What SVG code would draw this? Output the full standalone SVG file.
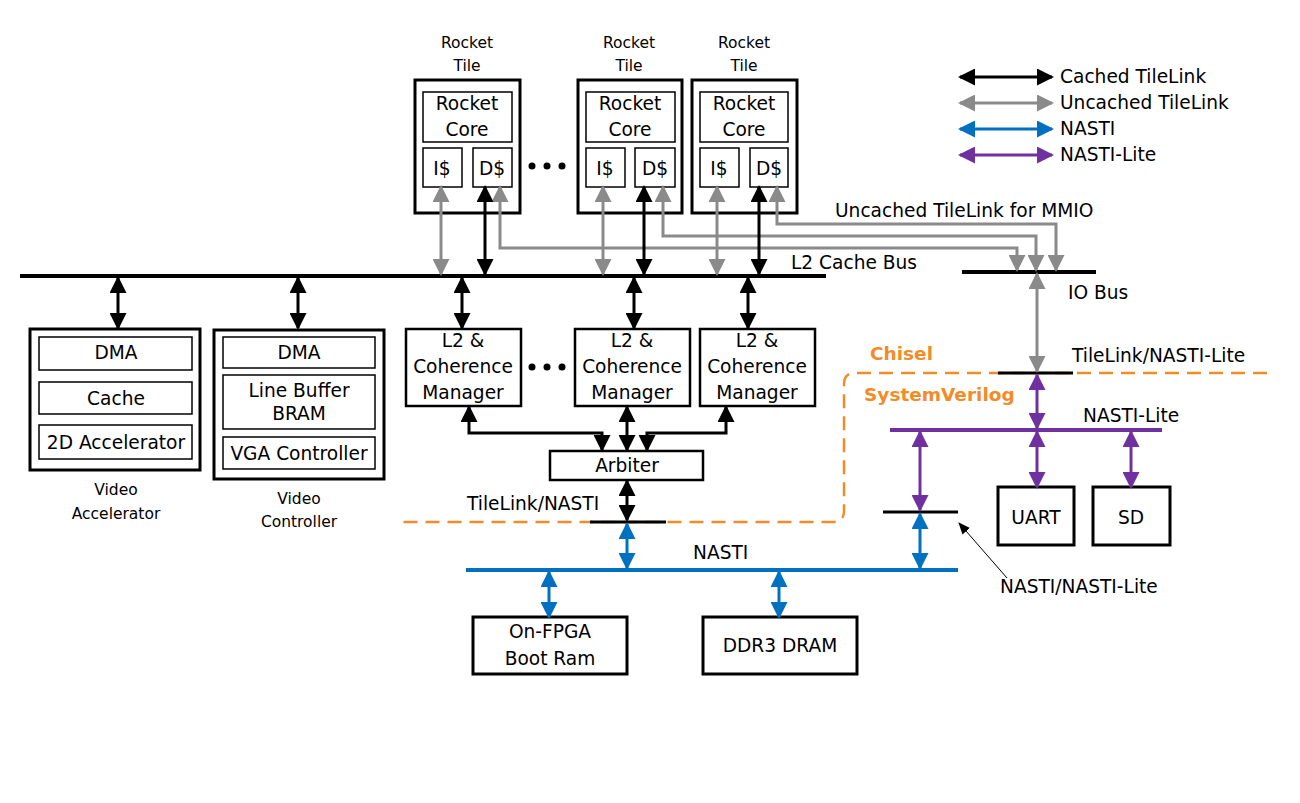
<svg xmlns="http://www.w3.org/2000/svg" width="1300" height="803" viewBox="0 0 1300 803">
<defs>
<style>
text{font-family:"DejaVu Sans","Liberation Sans",sans-serif;font-size:18.6px;fill:#000}
.sm{font-size:15.5px}
.mid{text-anchor:middle}
.lg{font-size:18.6px}
.org{fill:#f28c28;font-weight:bold;font-size:18.5px}
.outer{fill:#fff;stroke:#000;stroke-width:3}
.inner{fill:#fff;stroke:#000;stroke-width:1.5}
.box{fill:#fff;stroke:#000;stroke-width:2.5}
.bus{stroke:#000;stroke-width:4;fill:none}
.kk{fill:none;stroke:#000;stroke-width:3;marker-start:url(#mk);marker-end:url(#mk)}
.gg{fill:none;stroke:#8a8a8a;stroke-width:3;marker-start:url(#mg);marker-end:url(#mg)}
.bb{fill:none;stroke:#0070c0;stroke-width:3;marker-start:url(#mb);marker-end:url(#mb)}
.pp{fill:none;stroke:#7030a0;stroke-width:3;marker-start:url(#mp);marker-end:url(#mp)}
</style>
<marker id="mk" markerUnits="userSpaceOnUse" markerWidth="17" markerHeight="17" viewBox="0 0 17 17" refX="15" refY="8.5" orient="auto-start-reverse"><path d="M0,0 L17,8.5 L0,17 z" fill="#000"/></marker>
<marker id="mg" markerUnits="userSpaceOnUse" markerWidth="17" markerHeight="17" viewBox="0 0 17 17" refX="15" refY="8.5" orient="auto-start-reverse"><path d="M0,0 L17,8.5 L0,17 z" fill="#8a8a8a"/></marker>
<marker id="mb" markerUnits="userSpaceOnUse" markerWidth="17" markerHeight="17" viewBox="0 0 17 17" refX="15" refY="8.5" orient="auto-start-reverse"><path d="M0,0 L17,8.5 L0,17 z" fill="#0070c0"/></marker>
<marker id="mp" markerUnits="userSpaceOnUse" markerWidth="17" markerHeight="17" viewBox="0 0 17 17" refX="15" refY="8.5" orient="auto-start-reverse"><path d="M0,0 L17,8.5 L0,17 z" fill="#7030a0"/></marker>
<marker id="ms" markerUnits="userSpaceOnUse" markerWidth="12" markerHeight="10" viewBox="0 0 12 10" refX="11" refY="5" orient="auto"><path d="M0,0 L12,5 L0,10 z" fill="#000"/></marker>
</defs>
<rect width="1300" height="803" fill="#fff"/>

<!-- orange boundary -->
<g id="boundary">
<path d="M1267,373 H855 Q844,373 844,384 V511 Q844,522 833,522 H403" fill="none" stroke="#f28c28" stroke-width="2.5" stroke-dasharray="14 8"/>
<text class="org" x="870" y="360">Chisel</text>
<text class="org" x="864" y="401">SystemVerilog</text>
</g>

<!-- buses -->
<g id="buses">
<line class="bus" x1="20" y1="276" x2="826" y2="276"/>
<text x="791" y="269">L2 Cache Bus</text>
<line class="bus" x1="962" y1="272" x2="1096" y2="272"/>
<text x="1068" y="299">IO Bus</text>
<line x1="998" y1="373" x2="1073" y2="373" stroke="#000" stroke-width="3"/>
<text x="1072" y="362">TileLink/NASTI-Lite</text>
<line x1="890" y1="430" x2="1162" y2="430" stroke="#7030a0" stroke-width="4"/>
<text x="1083" y="422">NASTI-Lite</text>
<line x1="883" y1="512" x2="958" y2="512" stroke="#000" stroke-width="3"/>
<text x="1000" y="593">NASTI/NASTI-Lite</text>
<line x1="590" y1="522" x2="666" y2="522" stroke="#000" stroke-width="3"/>
<text x="467" y="510">TileLink/NASTI</text>
<line x1="466" y1="570" x2="958" y2="570" stroke="#0070c0" stroke-width="4"/>
<text x="693" y="559">NASTI</text>
</g>

<!-- Rocket tiles -->
<g id="tile1">
<text class="sm mid" x="467" y="48">Rocket</text>
<text class="sm mid" x="467" y="71">Tile</text>
<rect class="outer" x="415" y="80" width="105" height="133"/>
<rect class="inner" x="423" y="92" width="89" height="50"/>
<text class="mid" x="467" y="110">Rocket</text>
<text class="mid" x="467" y="136">Core</text>
<rect class="inner" x="423" y="148" width="39" height="39"/>
<text class="mid" x="442" y="175">I$</text>
<rect class="inner" x="473" y="148" width="39" height="39"/>
<text class="mid" x="492" y="175">D$</text>
</g>
<g id="dots1" fill="#000">
<circle cx="532" cy="166" r="3.5"/><circle cx="547" cy="166" r="3.5"/><circle cx="562" cy="166" r="3.5"/>
</g>
<g id="tile2">
<text class="sm mid" x="629" y="48">Rocket</text>
<text class="sm mid" x="629" y="71">Tile</text>
<rect class="outer" x="578" y="80" width="104" height="133"/>
<rect class="inner" x="586" y="92" width="89" height="50"/>
<text class="mid" x="630" y="110">Rocket</text>
<text class="mid" x="630" y="136">Core</text>
<rect class="inner" x="586" y="148" width="39" height="39"/>
<text class="mid" x="605" y="175">I$</text>
<rect class="inner" x="635" y="148" width="40" height="39"/>
<text class="mid" x="655" y="175">D$</text>
</g>
<g id="tile3">
<text class="sm mid" x="744" y="48">Rocket</text>
<text class="sm mid" x="744" y="71">Tile</text>
<rect class="outer" x="692" y="80" width="105" height="133"/>
<rect class="inner" x="700" y="92" width="88" height="50"/>
<text class="mid" x="744" y="110">Rocket</text>
<text class="mid" x="744" y="136">Core</text>
<rect class="inner" x="700" y="148" width="39" height="39"/>
<text class="mid" x="719" y="175">I$</text>
<rect class="inner" x="750" y="148" width="38" height="39"/>
<text class="mid" x="769" y="175">D$</text>
</g>
<text x="835" y="217">Uncached TileLink for MMIO</text>

<!-- Video accelerator -->
<g id="videoacc">
<rect class="outer" x="30" y="329" width="170" height="141"/>
<rect class="inner" x="39" y="337" width="153" height="33"/>
<text class="mid" x="116" y="359">DMA</text>
<rect class="inner" x="39" y="382" width="153" height="32"/>
<text class="mid" x="116" y="405">Cache</text>
<rect class="inner" x="39" y="425" width="153" height="34"/>
<text class="mid" x="116" y="449">2D Accelerator</text>
<text class="sm mid" x="116" y="495">Video</text>
<text class="sm mid" x="116" y="519">Accelerator</text>
</g>
<g id="videoctl">
<rect class="outer" x="214" y="330" width="170" height="149"/>
<rect class="inner" x="223" y="337" width="152" height="31"/>
<text class="mid" x="299" y="359">DMA</text>
<rect class="inner" x="223" y="375" width="152" height="54"/>
<text class="mid" x="299" y="397">Line Buffer</text>
<text class="mid" x="299" y="420">BRAM</text>
<rect class="inner" x="223" y="437" width="152" height="32"/>
<text class="mid" x="299" y="460">VGA Controller</text>
<text class="sm mid" x="299" y="504">Video</text>
<text class="sm mid" x="299" y="527">Controller</text>
</g>

<!-- L2 coherence managers -->
<g id="cm1">
<rect class="box" x="406" y="329" width="115" height="77"/>
<text class="mid" x="463" y="347">L2 &amp;</text>
<text class="mid" x="463" y="373">Coherence</text>
<text class="mid" x="463" y="399">Manager</text>
</g>
<g id="dots2" fill="#000">
<circle cx="532" cy="367" r="3.5"/><circle cx="547" cy="367" r="3.5"/><circle cx="562" cy="367" r="3.5"/>
</g>
<g id="cm2">
<rect class="box" x="575" y="329" width="115" height="77"/>
<text class="mid" x="632" y="347">L2 &amp;</text>
<text class="mid" x="632" y="373">Coherence</text>
<text class="mid" x="632" y="399">Manager</text>
</g>
<g id="cm3">
<rect class="box" x="700" y="329" width="115" height="77"/>
<text class="mid" x="757" y="347">L2 &amp;</text>
<text class="mid" x="757" y="373">Coherence</text>
<text class="mid" x="757" y="399">Manager</text>
</g>
<g id="arbiter">
<rect class="box" x="550" y="451" width="153" height="29" stroke-width="2"/>
<text class="mid" x="627" y="472">Arbiter</text>
</g>

<!-- peripherals -->
<g id="uart">
<rect class="outer" x="998" y="487" width="76" height="58"/>
<text class="mid" x="1036" y="524">UART</text>
</g>
<g id="sd">
<rect class="outer" x="1093" y="487" width="77" height="58"/>
<text class="mid" x="1131" y="524">SD</text>
</g>
<g id="bootram">
<rect class="outer" x="473" y="617" width="154" height="57"/>
<text class="mid" x="550" y="638">On-FPGA</text>
<text class="mid" x="550" y="665">Boot Ram</text>
</g>
<g id="ddr3">
<rect class="outer" x="703" y="617" width="154" height="57"/>
<text class="mid" x="780" y="652">DDR3 DRAM</text>
</g>

<!-- connectors -->
<g id="connectors">
<path class="gg" d="M500,187 V248 H1017 V270"/>
<path class="gg" d="M663,187 V236 H1036 V270"/>
<path class="gg" d="M777,187 V224 H1056 V270"/>
<line class="gg" x1="441" y1="187" x2="441" y2="274"/>
<line class="gg" x1="603" y1="187" x2="603" y2="274"/>
<line class="gg" x1="717" y1="187" x2="717" y2="274"/>
<line class="kk" x1="485" y1="187" x2="485" y2="274"/>
<line class="kk" x1="644" y1="187" x2="644" y2="274"/>
<line class="kk" x1="759" y1="187" x2="759" y2="274"/>
<line class="kk" x1="118" y1="278" x2="118" y2="328"/>
<line class="kk" x1="298" y1="278" x2="298" y2="328"/>
<line class="kk" x1="462" y1="278" x2="462" y2="328"/>
<line class="kk" x1="634" y1="278" x2="634" y2="328"/>
<line class="kk" x1="748" y1="278" x2="748" y2="328"/>
<path class="kk" d="M469,407 V433 H602 V450"/>
<path class="kk" d="M726,407 V433 H647 V450"/>
<line class="kk" x1="627" y1="407" x2="627" y2="450"/>
<line class="kk" x1="627" y1="481" x2="627" y2="520"/>
<line class="gg" x1="1037" y1="274" x2="1037" y2="371"/>
<line class="pp" x1="1037" y1="375" x2="1037" y2="428"/>
<line class="pp" x1="1037" y1="432" x2="1037" y2="487"/>
<line class="pp" x1="1131" y1="432" x2="1131" y2="487"/>
<line class="pp" x1="920" y1="432" x2="920" y2="510"/>
<line class="bb" x1="920" y1="514" x2="920" y2="568"/>
<line class="bb" x1="627" y1="524" x2="627" y2="568"/>
<line class="bb" x1="549" y1="572" x2="549" y2="617"/>
<line class="bb" x1="779" y1="572" x2="779" y2="617"/>
<line x1="1007" y1="578" x2="959" y2="523" stroke="#000" stroke-width="1" marker-end="url(#ms)"/>
</g>

<!-- legend -->
<g id="legend">
<line class="kk" x1="960" y1="77" x2="1052" y2="77"/>
<text class="lg" x="1060" y="83">Cached TileLink</text>
<line class="gg" x1="960" y1="103" x2="1052" y2="103"/>
<text class="lg" x="1060" y="109">Uncached TileLink</text>
<line class="bb" x1="960" y1="129" x2="1052" y2="129"/>
<text class="lg" x="1060" y="135">NASTI</text>
<line class="pp" x1="960" y1="155" x2="1052" y2="155"/>
<text class="lg" x="1060" y="161">NASTI-Lite</text>
</g>
</svg>
